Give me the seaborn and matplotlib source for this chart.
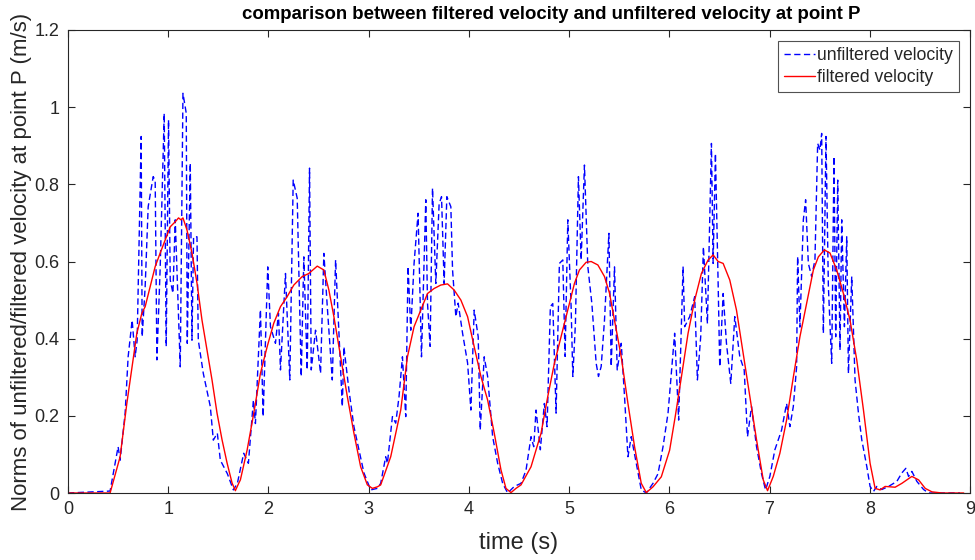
import matplotlib
matplotlib.use("Agg")
import matplotlib.pyplot as plt
import seaborn as sns
import pandas as pd

# ---- data ----
unf_time = [0.0, 0.42, 0.50, 0.52, 0.57, 0.60, 0.64, 0.67, 0.69, 0.73, 0.74, 0.77, 0.80, 0.85, 0.87,
            0.887, 0.92, 0.96, 0.98, 1.003, 1.02, 1.047, 1.07, 1.12, 1.147, 1.18, 1.19, 1.22, 1.237,
            1.253, 1.287, 1.30, 1.35, 1.42, 1.45, 1.49, 1.52, 1.59, 1.65, 1.69,
            1.753, 1.80, 1.85, 1.87, 1.92, 1.947, 1.993, 2.02, 2.07, 2.10, 2.12, 2.17, 2.213, 2.247,
            2.287, 2.327, 2.353, 2.387, 2.41, 2.427, 2.47, 2.52, 2.553, 2.587, 2.637, 2.67, 2.737,
            2.753, 2.803, 2.853, 2.903, 2.953, 3.02, 3.087,
            3.12, 3.17, 3.187, 3.237, 3.27, 3.303, 3.337, 3.37, 3.393, 3.42, 3.453, 3.493, 3.527,
            3.57, 3.587, 3.613, 3.637, 3.67, 3.703, 3.727, 3.753, 3.78, 3.82, 3.837, 3.87, 3.893,
            3.937, 3.987, 4.02, 4.053, 4.093, 4.113, 4.153, 4.187, 4.237, 4.287, 4.337, 4.387, 4.453,
            4.52, 4.57, 4.62, 4.647, 4.67, 4.713, 4.753, 4.78, 4.813, 4.837, 4.87, 4.903, 4.937,
            4.96, 4.987, 5.02, 5.037, 5.063, 5.093, 5.12, 5.153, 5.187, 5.227, 5.27, 5.293, 5.32,
            5.353, 5.397, 5.42, 5.453, 5.48, 5.52, 5.553, 5.587, 5.62, 5.67, 5.72, 5.77, 5.837,
            5.887, 5.937, 5.987,
            6.053, 6.093, 6.137, 6.153, 6.203, 6.253, 6.28, 6.313, 6.34, 6.38, 6.42, 6.437, 6.46,
            6.487, 6.503, 6.537, 6.57, 6.613, 6.653, 6.703, 6.747, 6.78, 6.82, 6.87, 6.92, 6.96,
            7.003, 7.053, 7.12, 7.17, 7.203, 7.237,
            7.27, 7.28, 7.303, 7.337, 7.36, 7.387, 7.42, 7.453, 7.48, 7.503, 7.52, 7.537, 7.563,
            7.587, 7.62, 7.643, 7.66, 7.68, 7.703, 7.72, 7.747, 7.77, 7.787, 7.82, 7.853, 7.887,
            7.92, 7.97, 8.003, 8.037, 8.07, 8.12, 8.187, 8.27, 8.32, 8.36, 8.387, 8.42, 8.47,
            8.537, 8.587, 8.9]
unf_speed = [0.0, 0.005, 0.12, 0.085, 0.207, 0.353, 0.448, 0.353, 0.396, 0.924, 0.405, 0.535, 0.742,
             0.82, 0.81, 0.345, 0.586, 0.984, 0.38, 0.967, 0.552, 0.518, 0.708, 0.327, 1.036, 0.984,
             0.388, 0.855, 0.396, 0.664, 0.664, 0.396, 0.31, 0.224, 0.137, 0.155, 0.085, 0.05,
             0.008, 0.025,
             0.103, 0.077, 0.241, 0.18, 0.475, 0.198, 0.586, 0.431, 0.388, 0.466, 0.319, 0.569,
             0.293, 0.811, 0.764, 0.302, 0.612, 0.319, 0.842, 0.319, 0.422, 0.31, 0.621, 0.483,
             0.293, 0.604, 0.224, 0.379, 0.267, 0.172, 0.112, 0.052, 0.008, 0.012,
             0.025, 0.094, 0.077, 0.198, 0.181, 0.25, 0.353, 0.198, 0.587, 0.422, 0.595, 0.725,
             0.353, 0.76, 0.492, 0.38, 0.79, 0.543, 0.75, 0.768, 0.543, 0.768, 0.742, 0.578, 0.457,
             0.492, 0.414, 0.337, 0.215, 0.474, 0.405, 0.163, 0.353, 0.302, 0.146, 0.077, 0.025,
             0.0, 0.017,
             0.025, 0.059, 0.146, 0.12, 0.215, 0.112, 0.232, 0.172, 0.483, 0.491, 0.207, 0.595,
             0.604, 0.354, 0.708, 0.483, 0.302, 0.44, 0.82, 0.604, 0.85, 0.586, 0.491, 0.336,
             0.302, 0.328, 0.448, 0.673, 0.328, 0.586, 0.319, 0.388, 0.25, 0.094, 0.146, 0.077,
             0.008, 0.0, 0.025, 0.05, 0.12, 0.207,
             0.414, 0.189, 0.587, 0.431, 0.457, 0.509, 0.293, 0.405, 0.638, 0.439, 0.906, 0.595,
             0.88, 0.543, 0.327, 0.517, 0.388, 0.284, 0.457, 0.353, 0.319, 0.146, 0.224, 0.12,
             0.05, 0.008, 0.043, 0.112, 0.163, 0.232, 0.172, 0.224,
             0.327, 0.613, 0.43, 0.708, 0.76, 0.595, 0.561, 0.604, 0.906, 0.889, 0.932, 0.414,
             0.924, 0.534, 0.336, 0.872, 0.405, 0.811, 0.37, 0.708, 0.431, 0.664, 0.31, 0.561,
             0.293, 0.207, 0.138, 0.069, 0.017, 0.004, 0.017, 0.009, 0.017, 0.03, 0.052, 0.064,
             0.043, 0.056, 0.03, 0.009, 0.0, 0.0]

filt_time = [0.0, 0.3, 0.42, 0.52, 0.587, 0.653, 0.687, 0.737, 0.77, 0.82, 0.87, 0.92, 0.97, 1.02,
             1.07, 1.103, 1.127, 1.147, 1.187, 1.237, 1.287, 1.337, 1.387, 1.437, 1.487, 1.537,
             1.587, 1.637, 1.67, 1.703,
             1.72, 1.787, 1.853, 1.92, 1.987, 2.053, 2.12, 2.187, 2.253, 2.337, 2.403, 2.487,
             2.553, 2.603, 2.653, 2.72, 2.787, 2.853, 2.92, 2.987, 3.037, 3.087,
             3.12, 3.22, 3.32, 3.387, 3.453, 3.52, 3.587, 3.653, 3.72, 3.787, 3.853, 3.92, 3.987,
             4.053, 4.12, 4.187, 4.253, 4.32, 4.37, 4.42, 4.47,
             4.52, 4.62, 4.72, 4.787, 4.853, 4.92, 4.987, 5.053, 5.103, 5.17, 5.22, 5.287, 5.353,
             5.403, 5.453, 5.52, 5.587, 5.653, 5.72, 5.77, 5.837, 5.92, 6.003,
             6.06, 6.12, 6.187, 6.253, 6.32, 6.387, 6.437, 6.487, 6.537, 6.603, 6.67, 6.737,
             6.803, 6.87, 6.937, 6.98, 7.037, 7.103, 7.17, 7.237, 7.303, 7.37, 7.437, 7.487,
             7.547, 7.603, 7.67, 7.737, 7.803, 7.87, 7.937, 8.003, 8.053, 8.103,
             8.153, 8.253, 8.32, 8.42, 8.487, 8.553, 8.62, 8.72, 8.937]
filt_speed = [0.0, 0.0, 0.0, 0.094, 0.232, 0.353, 0.414, 0.466, 0.483, 0.535, 0.587, 0.622, 0.656,
              0.69, 0.703, 0.713, 0.708, 0.713, 0.682, 0.622, 0.544, 0.448, 0.371, 0.293, 0.207,
              0.138, 0.078, 0.026, 0.006, 0.025,
              0.034, 0.111, 0.206, 0.31, 0.379, 0.44, 0.483, 0.509, 0.539, 0.561, 0.569, 0.588,
              0.578, 0.526, 0.457, 0.353, 0.25, 0.155, 0.068, 0.021, 0.012, 0.016,
              0.021, 0.094, 0.215, 0.353, 0.431, 0.474, 0.517, 0.53, 0.539, 0.542, 0.526, 0.5,
              0.457, 0.379, 0.302, 0.241, 0.155, 0.06, 0.012, 0.001, 0.012,
              0.021, 0.068, 0.155, 0.25, 0.336, 0.405, 0.474, 0.543, 0.578, 0.598, 0.6, 0.591,
              0.561, 0.518, 0.448, 0.353, 0.232, 0.12, 0.025, 0.001, 0.016, 0.042, 0.111,
              0.2, 0.3, 0.414, 0.5, 0.569, 0.604, 0.617, 0.6, 0.595, 0.552, 0.474, 0.362,
              0.25, 0.138, 0.034, 0.006, 0.043, 0.103, 0.189, 0.3, 0.405, 0.492, 0.578, 0.612,
              0.63, 0.622, 0.578, 0.517, 0.448, 0.345, 0.215, 0.077, 0.012, 0.008,
              0.017, 0.015, 0.025, 0.043, 0.034, 0.012, 0.003, 0.0, 0.0]

x_ticks = [0, 1, 2, 3, 4, 5, 6, 7, 8, 9]
y_ticks = [0, 0.2, 0.4, 0.6, 0.8, 1.0, 1.2]
y_tick_labels = ["0", "0.2", "0.4", "0.6", "0.8", "1", "1.2"]

unf_df = pd.DataFrame({"time": unf_time, "speed": unf_speed})
filt_df = pd.DataFrame({"time": filt_time, "speed": filt_speed})

# ---- style ----
sns.set_style("white")
plt.rcParams["font.family"] = ["Liberation Sans", "DejaVu Sans"]

fig = plt.figure(figsize=(9.75, 5.6), dpi=100)
ax = fig.add_axes([68 / 975, 1 - 493 / 560, (970 - 68) / 975, (493 - 30) / 560])

sns.lineplot(data=unf_df, x="time", y="speed", ax=ax, sort=False, estimator=None,
             color="#0000FF", linewidth=1.0, dashes=False, label="unfiltered velocity")
ax.lines[-1].set_linestyle((0, (4.5, 2.5)))
sns.lineplot(data=filt_df, x="time", y="speed", ax=ax, sort=False, estimator=None,
             color="#FF0000", linewidth=1.0, label="filtered velocity")

ax.set_xlim(0, 9)
ax.set_ylim(0, 1.2)
ax.set_xticks(x_ticks)
ax.set_xticklabels([str(v) for v in x_ticks])
ax.set_yticks(y_ticks)
ax.set_yticklabels(y_tick_labels)

for s in ax.spines.values():
    s.set_visible(True)
    s.set_color("#262626")
    s.set_linewidth(0.8)
ax.tick_params(direction="in", length=5, width=0.8, color="#262626", labelsize=13,
               labelcolor="#262626", top=True, right=True, bottom=True, left=True, pad=6)

ax.set_xlabel("time (s)", fontsize=17, color="#262626", labelpad=10)
ax.set_ylabel("Norms of unfiltered/filtered velocity at point P (m/s)", fontsize=16,
              color="#262626", labelpad=2)
ax.set_title("comparison between filtered velocity and unfiltered velocity at point P",
             fontsize=13.4, fontweight="bold", color="black", pad=8, x=0.536)

leg = ax.legend(loc="upper right", fontsize=12.7, frameon=True, fancybox=False,
                handlelength=1.75, handletextpad=0.15, borderpad=0.35, labelspacing=0.3,
                borderaxespad=0.6)
leg.get_frame().set_edgecolor("#262626")
leg.get_frame().set_linewidth(0.8)

fig.savefig("out.png", dpi=100)
